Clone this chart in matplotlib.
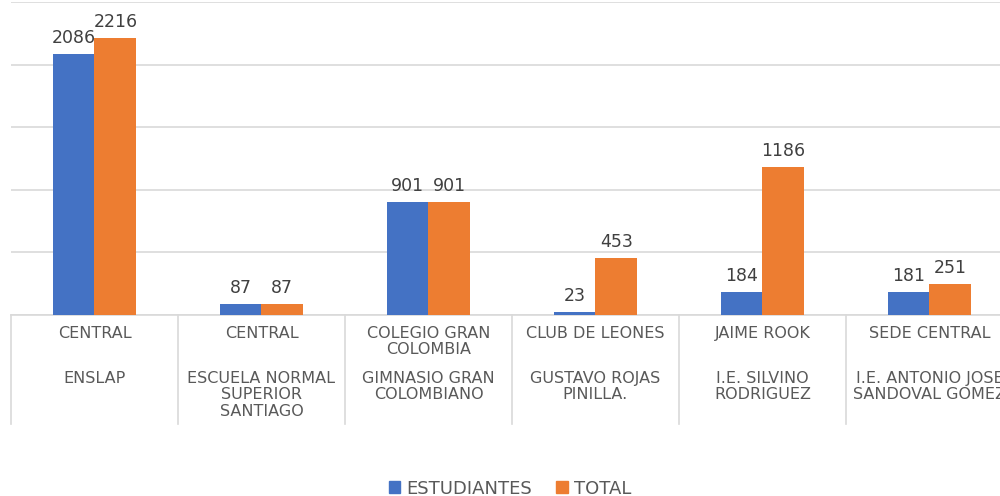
import matplotlib.pyplot as plt
import numpy as np
from matplotlib.patches import Patch

plt.rcParams["font.family"] = ["DejaVu Sans"]

inner = ["CENTRAL", "CENTRAL", "COLEGIO GRAN\nCOLOMBIA", "CLUB DE LEONES",
         "JAIME ROOK", "SEDE CENTRAL"]
outer = ["ENSLAP", "ESCUELA NORMAL\nSUPERIOR\nSANTIAGO", "GIMNASIO GRAN\nCOLOMBIANO",
         "GUSTAVO ROJAS\nPINILLA.", "I.E. SILVINO\nRODRIGUEZ",
         "I.E. ANTONIO JOSE\nSANDOVAL GOMEZ"]
estudiantes = [2086, 87, 901, 23, 184, 181]
total = [2216, 87, 901, 453, 1186, 251]
series = ["ESTUDIANTES", "TOTAL"]

blue = "#4472C4"
orange = "#ED7D31"
grid = "#D9D9D9"
txt = "#595959"

fig = plt.figure(figsize=(10, 4.96), dpi=100)
ax = fig.add_axes([0.011, 1 - 315 / 496, 1.002, 313 / 496])

x = np.arange(len(inner))
w = 0.25
b1 = ax.bar(x - w / 2, estudiantes, w, color=blue, zorder=3)
b2 = ax.bar(x + w / 2, total, w, color=orange, zorder=3)

for bars in (b1, b2):
    for rect in bars:
        ax.annotate(f"{int(rect.get_height())}",
                    (rect.get_x() + rect.get_width() / 2, rect.get_height()),
                    xytext=(0, 5), textcoords="offset points",
                    ha="center", va="bottom", fontsize=12.5, color="#404040")

ax.set_xlim(-0.5, len(inner) - 0.5)
ax.set_ylim(0, 2500)
ax.set_yticks(np.arange(0, 2501, 500))
ax.yaxis.grid(True, color=grid, linewidth=1.2, zorder=0)
ax.tick_params(left=False, labelleft=False, bottom=False, labelbottom=False)
for s in ["left", "right", "top"]:
    ax.spines[s].set_visible(False)
ax.spines["bottom"].set_color(grid)
ax.spines["bottom"].set_linewidth(1.2)

trans = ax.get_xaxis_transform()
sep_h = 109 / 313
for b in np.arange(-0.5, len(inner), 1.0):
    ax.plot([b, b], [0, -sep_h], transform=trans, color=grid, linewidth=1.2,
            clip_on=False)

for i in range(len(inner)):
    ax.annotate(inner[i], (x[i], 0), xycoords=trans, xytext=(0, -8),
                textcoords="offset points", ha="center", va="top",
                fontsize=11.5, color=txt, linespacing=1.1)
    ax.annotate(outer[i], (x[i], 0), xycoords=trans, xytext=(0, -40.5),
                textcoords="offset points", ha="center", va="top",
                fontsize=11.5, color=txt, linespacing=1.1)

handles = [Patch(color=blue), Patch(color=orange)]
fig.legend(handles, series, loc="center", bbox_to_anchor=(0.51, 0.015),
           ncol=2, frameon=False, fontsize=13, labelcolor=txt,
           handlelength=0.65, handleheight=0.65, handletextpad=0.35,
           columnspacing=1.3)

fig.savefig("out.png", dpi=100)
